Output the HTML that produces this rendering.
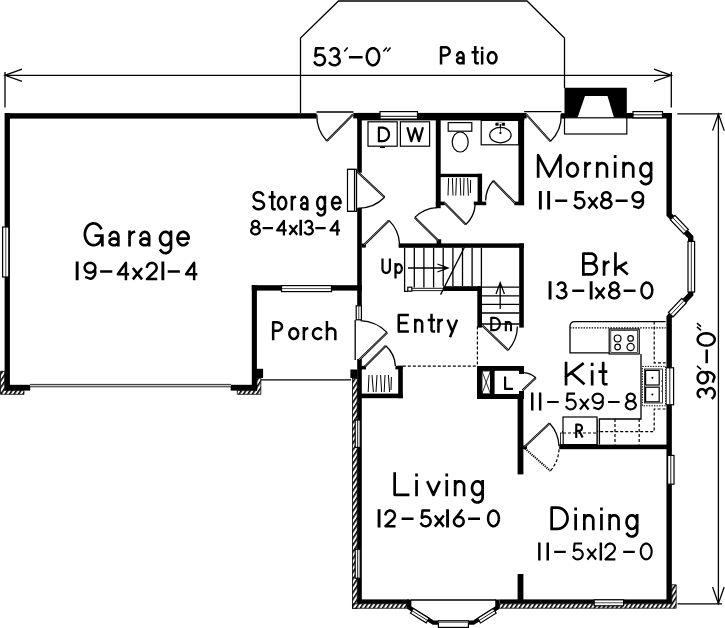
<!DOCTYPE html>
<html><head><meta charset="utf-8">
<style>
html,body{margin:0;padding:0;background:#fff;}
body{width:725px;height:628px;overflow:hidden;}
svg{display:block;}
text{font-family:"Liberation Sans",sans-serif;fill:#000;}
.w{fill:#000;}
.t{fill:none;stroke:#000;stroke-width:1.3;}
.tw{fill:#fff;stroke:#000;stroke-width:1.2;}
.d{fill:none;stroke:#000;stroke-width:1.2;stroke-dasharray:3 2;}
.leaf{stroke:#000;stroke-width:2.1;fill:none;}
.leafi{stroke:#fff;stroke-width:0.5;fill:none;}
</style></head><body>
<svg width="725" height="628" viewBox="0 0 725 628">
<defs>
<pattern id="h" width="3.7" height="3.7" patternUnits="userSpaceOnUse" patternTransform="rotate(33)">
<rect width="3.7" height="3.7" fill="#fff"/><rect x="0" y="0" width="1.6" height="3.7" fill="#000"/>
</pattern>
</defs>
<rect width="725" height="628" fill="#fff"/>

<!-- PATIO + DIMENSIONS -->
<g id="dims" class="t">
<path d="M300.5,113 V38 L338.5,1 H527 L564.5,38 V88"/>
<path d="M5,75.3 H671.3"/>
<path d="M22,69.2 L5,75.3 L22,81.4"/>
<path d="M654,69.2 L671.3,75.3 L654,81.4"/>
<path d="M5,72 V107.6"/>
<path d="M671.3,72 V107.6"/>
<path d="M677.3,113.8 H722"/>
<path d="M677.5,603.8 H722"/>
<path d="M718.4,113.8 V603.8"/>
<path d="M712.6,130.6 L718.4,114 L724.2,130.6"/>
<path d="M712.6,587 L718.4,603.6 L724.2,587"/>
</g>

<!-- WALLS -->
<g id="walls" class="w">
<!-- garage -->
<rect x="5" y="113.2" width="311.5" height="5.4"/>
<rect x="4.6" y="113" width="5.3" height="277.6"/>
<rect x="5" y="384.8" width="25.2" height="5.8"/>
<rect x="251.8" y="285" width="5.1" height="105.6"/>
<rect x="230.7" y="384.8" width="26.3" height="5.8"/>
<rect x="251.8" y="285.2" width="110" height="5.4"/>
<rect x="254.8" y="368.8" width="8.3" height="9.2"/>
<rect x="350.4" y="369.5" width="7" height="8.5"/>
<!-- top wall of house -->
<rect x="353.3" y="113" width="4" height="5.4"/><rect x="357.2" y="112.9" width="167.2" height="7.5"/><rect x="524" y="113" width="2.6" height="5.4"/>
<rect x="561" y="113.2" width="6" height="5.4"/>
<rect x="626" y="113" width="45.9" height="5.5"/>
<!-- house left wall -->
<rect x="357.2" y="113.2" width="4.6" height="59.5"/>
<rect x="357.2" y="207.8" width="4.6" height="98"/>
<rect x="357.2" y="359" width="4.6" height="249"/>
<!-- fireplace -->
<path d="M564.5,87.8 H626.8 V117.8 H614 L607.5,96 H585 L577.5,117.8 H564.5 Z"/>
<!-- laundry/bath divider -->
<rect x="435.8" y="113.2" width="4.9" height="95"/>
<rect x="435.8" y="201.6" width="9" height="3.6"/>
<!-- hall closet -->
<rect x="436" y="173.8" width="46" height="3.3"/>
<rect x="477.6" y="173.8" width="4.5" height="31.2"/>
<rect x="473.8" y="201.6" width="12.4" height="3.6"/>
<!-- bath right wall -->
<rect x="518.5" y="113.2" width="5.6" height="92"/>
<rect x="514.3" y="201.6" width="9.8" height="3.6"/>
<!-- stair walls -->
<rect x="398.6" y="243.4" width="125.4" height="4.4"/>
<rect x="436.6" y="239.3" width="4.6" height="5"/>
<rect x="361.6" y="243.6" width="4.2" height="4"/>
<rect x="519.2" y="243.4" width="4.6" height="84.2"/>
<rect x="443.2" y="286.2" width="38.8" height="4.8"/>
<rect x="477.3" y="286.2" width="4.7" height="41.4"/>
<!-- entry closet -->
<rect x="361" y="365.8" width="5" height="3.6"/>
<rect x="395.4" y="365.8" width="7.2" height="3.6"/>
<rect x="398.2" y="365.8" width="4.6" height="32.4"/>
<rect x="361" y="393.6" width="41.8" height="4.6"/>
<!-- L closet -->
<rect x="477" y="366" width="47" height="4.8"/>
<rect x="477" y="366" width="4.8" height="33"/>
<rect x="477" y="394" width="47" height="5"/>
<rect x="490.6" y="366" width="4" height="33"/>
<rect x="519" y="366" width="5" height="8"/>
<rect x="519" y="391" width="5" height="8"/>
<!-- living/dining divider -->
<rect x="517.6" y="394" width="5.8" height="80.4"/>
<rect x="517.6" y="574" width="5.8" height="28"/>
<rect x="523" y="445.6" width="4" height="3.4"/>
<!-- kitchen bottom wall -->
<rect x="559.2" y="444.6" width="110" height="4.6"/>
<!-- bottom wall -->
<rect x="357.2" y="599.4" width="51.8" height="4.4"/>
<rect x="499.5" y="599.4" width="171.7" height="4.4"/>
<!-- SECTION:WALLS -->
</g>

<!-- DETAILS -->
<g id="details">
<!-- right wall with bay -->
<path d="M669.15,113 V214.6 L690.7,237.2 V294.3 L669.15,317 V603.8" fill="none" stroke="#000" stroke-width="5.4" stroke-linejoin="miter"/>
<!-- bay windows (right) -->
<g transform="translate(669.15,214.6) rotate(46.4)"><rect x="4.5" y="-3.7" width="19.5" height="6.4" class="tw"/><path d="M4.5,-0.5 H24" class="t" style="stroke-width:0.8"/></g>
<rect x="688" y="241.4" width="6.6" height="50.6" class="tw"/><path d="M691.3,241.4 V292" class="t" style="stroke-width:0.8"/>
<g transform="translate(690.7,294.3) rotate(133.5)"><rect x="9" y="-2.7" width="19.5" height="6.4" class="tw"/><path d="M9,0.5 H28.5" class="t" style="stroke-width:0.8"/></g>
<!-- kitchen + dining windows on right wall -->
<rect x="666" y="367.8" width="7.6" height="37" class="tw"/><path d="M669.8,367.8 V404.8" class="t" style="stroke-width:0.9"/>
<rect x="667.6" y="455.4" width="6.4" height="28.8" class="tw"/><path d="M670.8,455.4 V484.2" class="t" style="stroke-width:0.9"/>
<!-- top windows -->
<rect x="380" y="111.6" width="37.5" height="7.4" class="tw"/><path d="M380,116.3 H417.5" class="t" style="stroke-width:1"/>
<rect x="633" y="111.6" width="29.5" height="6.2" class="tw"/><path d="M633,114.8 H662.5" class="t" style="stroke-width:0.9"/>
<!-- garage left window -->
<rect x="2.6" y="227" width="6.2" height="50" class="tw"/><path d="M5.8,227 V277" class="t" style="stroke-width:0.7"/>
<!-- porch window -->
<rect x="281.5" y="285.6" width="50" height="6" class="tw"/><path d="M281.5,288.6 H331.5" class="t" style="stroke-width:0.7"/>
<!-- sidelight -->
<rect x="356.2" y="305.8" width="5.2" height="14" class="tw"/><path d="M358.8,305.8 V319.8" class="t" style="stroke-width:0.7"/>
<!-- garage door -->
<rect x="30" y="384.4" width="201" height="2.4" fill="#c8c8c8"/><path d="M30,384.4 H231 M30,386.8 H231" class="t" style="stroke:#333;stroke-width:1"/>
<!-- porch line -->
<path d="M260.8,379.9 H351" class="t"/>
<!-- hatch: garage corners -->
<path d="M0.5,371.3 H4.6 V390.6 H24 V394.3 H0.5 Z" fill="url(#h)" stroke="#000" stroke-width="0.8"/>
<path d="M256.9,378 H260.8 V394.3 H237.3 V390.6 H256.9 Z" fill="url(#h)" stroke="#000" stroke-width="0.8"/>
<!-- hatch: living left wall -->
<rect x="352.4" y="378.5" width="4.8" height="229.8" fill="url(#h)" stroke="#000" stroke-width="0.8"/>
<rect x="355.2" y="420" width="5" height="27.4" class="tw"/><path d="M357.7,420 V447.4" class="t" style="stroke-width:0.9"/>
<rect x="355.2" y="549.2" width="5" height="29" class="tw"/><path d="M357.7,549.2 V578.2" class="t" style="stroke-width:0.9"/>
<!-- hatch: bottom -->
<rect x="352.4" y="603.8" width="54.6" height="4.4" fill="url(#h)" stroke="#000" stroke-width="0.8"/>
<path d="M499.6,603.8 H671.8 V584.8 H676.2 V608.2 H499.6 Z" fill="url(#h)" stroke="#000" stroke-width="0.8"/>
<rect x="594.2" y="599.8" width="29.4" height="6" class="tw"/><path d="M594.2,602.8 H623.6" class="t" style="stroke-width:0.7"/>
<!-- living bay -->
<path d="M409.2,599.4 V607.6 L433.4,622.7 H473.4 L497.4,607.6 V599.4" fill="none" stroke="#000" stroke-width="4.3" stroke-linejoin="miter"/>
<path d="M411,600 H496" class="t"/>
<g transform="translate(409.2,607.6) rotate(31.9)"><rect x="4" y="-1.4" width="18.5" height="5.4" class="tw"/><path d="M4,1.2 H22.5" class="t" style="stroke-width:0.8"/></g>
<g transform="translate(497.4,607.6) rotate(147.8)"><rect x="4" y="-4" width="18.5" height="5.4" class="tw"/><path d="M4,-1.2 H22.5" class="t" style="stroke-width:0.8"/></g>
<rect x="438.4" y="620.8" width="30" height="6.6" class="tw"/><path d="M438.4,622.2 H468.4" class="t" style="stroke:#777;stroke-width:1.6"/>
<!-- hearth -->
<rect x="564.5" y="117.8" width="62.3" height="16.2" class="tw"/>
<!-- DOORS: leaf (double line) + arc -->
<!-- D1 garage back door -->
<path d="M316.5,112 H353.5" class="t"/>
<path d="M353,114.5 L326.8,141" class="leaf"/><path d="M353,114.5 L326.8,141" class="leafi"/>
<path d="M326.8,141 A37.5,37.5 0 0 1 316.8,114.5" class="t"/>
<!-- D2 storage door -->
<rect x="347.5" y="169.4" width="7" height="42" class="tw"/><path d="M356.5,169.4 V211.4" class="t"/><path d="M347.5,169.4 H357 M347.5,211.4 H357" class="t"/>
<path d="M357.6,172 L384.6,197.3" class="leaf"/><path d="M357.6,172 L384.6,197.3" class="leafi"/>
<path d="M384.6,197.3 A37,37 0 0 1 358,208.3" class="t"/>
<!-- D3 -->
<path d="M364,245 L389,220.4" class="leaf"/><path d="M364,245 L389,220.4" class="leafi"/>
<path d="M389,220.4 A36,36 0 0 1 399.6,244" class="t"/>
<!-- D4 -->
<path d="M438.6,241 L414.8,217.4" class="leaf"/><path d="M438.6,241 L414.8,217.4" class="leafi"/>
<path d="M414.8,217.4 A33.5,33.5 0 0 1 437,207.6" class="t"/>
<!-- D5 hall closet -->
<path d="M444.5,203 L465.8,224.5" class="leaf"/><path d="M444.5,203 L465.8,224.5" class="leafi"/>
<path d="M465.8,224.5 A30.2,30.2 0 0 0 475.2,204.6" class="t"/>
<!-- D6 bath -->
<path d="M515,203 L493.2,180.8" class="leaf"/><path d="M515,203 L493.2,180.8" class="leafi"/>
<path d="M493.2,180.8 A31,31 0 0 0 485.6,200.6" class="t"/>
<!-- D7 morning -->
<path d="M524.2,111.6 H561.4" class="t"/>
<path d="M526.4,114.6 L550.5,141.4" class="leaf"/><path d="M526.4,114.6 L550.5,141.4" class="leafi"/>
<path d="M550.5,141.4 A36.4,36.4 0 0 0 561.2,114" class="t"/>
<!-- D8 front door -->
<path d="M355.2,320 V360" class="t"/>
<path d="M359,360 L387.2,332.6" class="leaf"/><path d="M359,360 L387.2,332.6" class="leafi"/>
<path d="M387.2,332.6 A39.5,39.5 0 0 0 360.5,320.6" class="t"/>
<!-- D9 entry closet -->
<path d="M365,366.4 L385.8,345.7" class="leaf"/><path d="M365,366.4 L385.8,345.7" class="leafi"/>
<path d="M385.8,345.7 A29.4,29.4 0 0 1 395.4,366" class="t"/>
<!-- D10 Dn door -->
<path d="M481.4,324 H519.4" class="t"/>
<path d="M482.4,325.4 L508.2,350.2" class="leaf"/><path d="M482.4,325.4 L508.2,350.2" class="leafi"/>
<path d="M508.2,350.2 A36.2,36.2 0 0 0 517.4,326.6" class="t"/>
<!-- D11 L closet door -->
<path d="M522.4,390.6 L535.8,377.8" class="leaf"/><path d="M522.4,390.6 L535.8,377.8" class="leafi"/>
<path d="M535.8,377.8 A18.6,18.6 0 0 0 523.6,372.6" class="t"/>
<!-- D12 kitchen double swing -->
<path d="M524.4,447 L549.6,423.2" class="leaf"/><path d="M524.4,447 L549.6,423.2" class="leafi"/>
<path d="M549.6,423.2 A35.5,35.5 0 0 1 559,446" class="t"/>
<path d="M525,448.6 L550.4,470.9" fill="none" stroke="#000" stroke-width="2" stroke-dasharray="1.2 1"/>
<path d="M559,449.4 A35.5,35.5 0 0 1 550.4,470.9" class="d"/>

<!-- dashed lines entry -->
<path d="M402.8,366.2 H477" class="d"/>
<path d="M477.4,326.6 V366" class="d"/>

<!-- washer / dryer -->
<rect x="368" y="121.8" width="29.2" height="24.4" class="tw"/>
<rect x="400.4" y="121.8" width="29.2" height="24.4" class="tw"/>
<path d="M380,147.4 H385" class="t"/>
<!-- toilet -->
<rect x="448.2" y="122.6" width="23.6" height="8.6" class="tw"/>
<ellipse cx="460.2" cy="142" rx="8" ry="10" class="tw"/>
<!-- sink -->
<rect x="481.2" y="120.4" width="37.5" height="24.4" class="tw"/>
<ellipse cx="500.4" cy="135.1" rx="10.7" ry="7.7" class="tw"/>
<rect x="495.3" y="123" width="3.4" height="2.7" rx="0.8" fill="#000"/><rect x="501.7" y="123" width="3.4" height="2.7" rx="0.8" fill="#000"/>
<path d="M495.6,122.2 H504.8" class="t" style="stroke:#777;stroke-width:0.8"/>
<path d="M499.6,124 L500.2,132 L500.6,132 L501.2,124 Z" fill="#000"/>
<circle cx="500.4" cy="132.9" r="1.1" fill="#000"/>
<!-- hall closet hangers -->
<path d="M448.6,178 L448,195.6 M452.4,178 L453,195.6 M456.4,178 L455.8,195.6 M460.2,178 L460.8,195.6 M464,178 L463.6,195.6 M467.6,178 L468.4,195.6 M470.6,180 L470.4,193" class="t" style="stroke-width:1"/>
<!-- entry closet hangers -->
<path d="M369,375 L368.2,392 M372,375 L373.4,392 M377,375 L376,392 M380.6,375 L381.6,392 M385,375 L384.2,392 M388.4,375 L389.6,392 M391.4,377 L391,390" class="t" style="stroke-width:1"/>

<!-- stairs up -->
<path d="M404.6,248 V291.4 H408 M414.3,248 V287.4 M423.9,248 V287.4 M433.6,248 V287.4 M443.2,248 V286 M452.9,248 V286 M462.5,248 V286 M472.1,248 V286 M481.4,248 V286" class="t"/>
<rect x="407.8" y="287.2" width="4" height="4" class="tw"/>
<path d="M412,288.3 H443.2 M412,290.6 H443.2" class="t" style="stroke-width:0.9"/>
<path d="M464.6,247 L440.6,294.6" class="t"/>
<path d="M408,268 H448 M437.4,264 L448,268 L437.4,272" class="t"/>
<!-- stairs down -->
<path d="M482,287.2 H519.4 M482,295.8 H519.4 M482,304.4 H519.4 M482,313 H519.4" class="t"/>
<path d="M500.2,282.6 V309 M496,294 L500.2,282.6 L504.4,294" class="t"/>
<!-- L closet X -->
<rect x="481.8" y="370.8" width="8.8" height="23.2" class="tw"/>
<path d="M481.8,370.8 L490.6,394 M490.6,370.8 L481.8,394" class="t" style="stroke-width:0.8"/>

<!-- KITCHEN -->
<path d="M665.6,321.6 H575 Q570,321.6 570,326.6 V352.8 H609.2" class="t"/>
<path d="M570,327.8 H665.6" class="t" stroke-dasharray="1.5 1.2"/>
<rect x="609.2" y="329" width="30" height="25" class="tw"/><rect x="610.8" y="330.6" width="26.8" height="21.8" class="tw" style="stroke-width:0.7"/>
<circle cx="617.6" cy="338.4" r="3.4" class="tw"/><circle cx="630.6" cy="338.4" r="2.8" class="tw"/>
<circle cx="617.6" cy="347" r="2.8" class="tw"/><circle cx="630.6" cy="347" r="3.6" class="tw"/>
<path d="M641,354 V419 H599.4 V444.6" class="t"/>
<path d="M597.4,419 V444.6" class="t" style="stroke-width:0.7"/>
<path d="M654.2,321.6 V362.8 H665.6" class="d"/>
<path d="M665.6,409 H654.2 V431.6 H562" class="d"/>
<path d="M615,419 V444.6 M639.2,419 V444.6" class="d"/>
<!-- sink -->
<rect x="642.4" y="366.4" width="23.2" height="39.4" fill="#fff" stroke="#000" stroke-width="1" stroke-dasharray="1.4 1.2"/>
<rect x="644.6" y="369" width="18" height="34" class="tw" style="stroke-width:0.8"/>
<rect x="645.6" y="370.4" width="13.6" height="14.6" class="tw"/>
<rect x="645.6" y="387.2" width="13.6" height="14.6" class="tw"/>
<circle cx="652.4" cy="377.8" r="1" fill="#000"/><circle cx="652.4" cy="394.6" r="1" fill="#000"/>
<circle cx="661.6" cy="381" r="0.6" fill="#000"/><circle cx="661.6" cy="386" r="0.6" fill="#000"/><circle cx="661.6" cy="391" r="0.6" fill="#000"/>
<!-- fridge -->
<rect x="563" y="417" width="34" height="27.6" class="tw"/>
<rect x="560.4" y="433" width="2.6" height="11.6" class="tw" style="stroke-width:0.8"/>
<path d="M563,433 H597" class="d"/>
<!-- SECTION:DETAILS -->
</g>

<!-- TEXT -->
<g id="labels">
<path d="M100.87,228.18 L99.75,226.49 L98.38,225.11 L96.81,224.11 L95.12,223.51 L93.37,223.35 L91.62,223.64 L89.96,224.35 L88.44,225.46 L87.13,226.93 L86.09,228.69 L85.34,230.68 L84.93,232.82 L84.87,235.02 L85.16,237.19 L85.79,239.24 L86.74,241.09 L87.96,242.67 L89.41,243.91 L91.03,244.76 L92.76,245.20 L94.51,245.19 L96.24,244.75 L97.85,243.88 L99.30,242.63 L100.51,241.04 L102.37,235.61 L95.80,235.61 M102.37,235.61 L102.37,245.25 M109.86,235.59 L110.11,234.72 L110.52,233.93 L111.05,233.23 L111.70,232.65 L112.44,232.23 L113.24,231.97 L114.07,231.89 L114.90,231.99 L115.69,232.26 L116.43,232.69 L117.07,233.27 L117.60,233.98 L117.99,234.78 L118.23,235.66 L118.31,236.57 L118.31,245.25 M116.44,239.17 L115.66,238.84 L114.81,238.64 L113.92,238.57 L113.03,238.64 L112.17,238.85 L111.39,239.19 L110.72,239.64 L110.18,240.18 L109.80,240.80 L109.59,241.46 L109.56,242.15 L109.71,242.82 L110.04,243.45 L110.54,244.02 L111.17,244.50 L111.92,244.88 L112.75,245.13 L113.64,245.24 L114.53,245.22 L115.40,245.06 L116.21,244.76 L116.92,244.35 L117.51,243.84 L117.95,243.24 L118.22,242.59 L118.31,241.91 M129.55,231.89 L129.55,245.25 M129.55,237.80 L129.65,236.63 L129.96,235.51 L130.46,234.47 L131.14,233.57 L131.95,232.84 L132.89,232.30 L133.89,231.98 M140.66,235.59 L140.91,234.72 L141.32,233.93 L141.85,233.23 L142.50,232.65 L143.24,232.23 L144.04,231.97 L144.87,231.89 L145.70,231.99 L146.49,232.26 L147.23,232.69 L147.87,233.27 L148.40,233.98 L148.79,234.78 L149.03,235.66 L149.11,236.57 L149.11,245.25 M147.24,239.17 L146.46,238.84 L145.61,238.64 L144.72,238.57 L143.83,238.64 L142.97,238.85 L142.19,239.19 L141.52,239.64 L140.98,240.18 L140.60,240.80 L140.39,241.46 L140.36,242.15 L140.51,242.82 L140.84,243.45 L141.34,244.02 L141.97,244.50 L142.72,244.88 L143.55,245.13 L144.44,245.24 L145.33,245.22 L146.20,245.06 L147.01,244.76 L147.72,244.35 L148.31,243.84 L148.75,243.24 L149.02,242.59 L149.11,241.91 M171.00,238.57 L170.89,237.23 L170.56,235.94 L170.02,234.75 L169.30,233.73 L168.42,232.90 L167.43,232.31 L166.35,231.97 L165.25,231.90 L164.15,232.10 L163.11,232.57 L162.17,233.29 L161.37,234.22 L160.74,235.33 L160.30,236.57 L160.08,237.89 L160.08,239.25 L160.30,240.57 L160.74,241.81 L161.37,242.92 L162.17,243.85 L163.11,244.57 L164.15,245.04 L165.25,245.24 L166.35,245.17 L167.43,244.83 L168.42,244.24 L169.30,243.41 L170.02,242.39 L170.56,241.20 L170.89,239.92 L171.00,238.57 M171.00,231.89 L171.00,247.88 L170.89,248.93 L170.56,249.94 L170.03,250.86 L169.32,251.67 L168.45,252.32 L167.47,252.79 L166.40,253.07 L165.30,253.13 L164.21,252.98 L163.18,252.63 L162.24,252.08 L161.43,251.36 L160.78,250.51 M177.55,238.57 L188.72,238.57 L188.71,238.10 L188.51,236.77 L188.10,235.51 L187.48,234.38 L186.69,233.42 L185.74,232.66 L184.69,232.16 L183.58,231.91 L182.45,231.94 L181.35,232.24 L180.32,232.80 L179.40,233.60 L178.64,234.60 L178.07,235.77 L177.70,237.05 L177.55,238.39 L177.64,239.74 L177.95,241.04 L178.47,242.24 L179.18,243.29 L180.06,244.15 L181.06,244.77 L182.15,245.15 L183.28,245.25 L184.40,245.08 L185.47,244.64 L186.45,243.95 L187.28,243.04" fill="none" stroke="#000" stroke-width="2.70" stroke-linejoin="round" stroke-linecap="square"/>
<path d="M76.95,279.05 L76.95,262.85 M77.36,279.05 L77.36,262.85 M95.02,269.37 L95.28,268.42 L95.33,267.44 L95.16,266.47 L94.78,265.55 L94.20,264.71 L93.46,264.00 L92.56,263.45 L91.57,263.06 L90.51,262.87 L89.43,262.88 L88.37,263.08 L87.38,263.47 L86.49,264.04 L85.75,264.76 L85.18,265.59 L84.81,266.52 L84.66,267.49 L84.72,268.47 L84.99,269.42 L85.48,270.30 L86.14,271.08 L86.97,271.71 L87.92,272.19 L88.95,272.48 L90.03,272.57 L91.10,272.46 L92.13,272.17 L93.07,271.68 L93.89,271.04 L94.55,270.26 L95.02,269.37 L95.29,273.11 L95.01,274.41 L94.50,275.63 L93.78,276.72 L92.88,277.64 L91.82,278.35 L90.66,278.82 L86.43,277.43 M101.35,271.44 L111.07,271.44 M125.95,279.05 L125.95,262.85 L117.85,274.19 L127.89,274.19 M133.64,278.40 L141.25,269.01 M133.64,269.01 L141.25,278.40 M147.06,266.70 L147.36,265.75 L147.86,264.88 L148.53,264.13 L149.33,263.53 L150.24,263.11 L151.22,262.89 L152.22,262.87 L153.20,263.05 L154.13,263.44 L154.96,264.01 L155.65,264.73 L156.18,265.58 L156.52,266.52 L156.67,267.51 L156.60,268.51 L156.34,269.48 L155.88,270.37 L155.25,271.15 L146.95,279.05 L156.02,279.05 M162.65,279.05 L162.65,262.85 M163.06,279.05 L163.06,262.85 M168.95,271.44 L178.67,271.44 M194.15,279.05 L194.15,262.85 L186.05,274.19 L196.09,274.19" fill="none" stroke="#000" stroke-width="2.50" stroke-linejoin="round" stroke-linecap="square"/>
<path d="M262.91,194.67 L262.40,193.91 L261.73,193.25 L260.92,192.73 L260.02,192.37 L259.05,192.18 L258.06,192.17 L257.08,192.33 L256.16,192.67 L255.34,193.17 L254.65,193.81 L254.12,194.55 L253.77,195.38 L253.61,196.26 L253.65,197.14 L253.89,198.00 L254.33,198.80 L254.93,199.50 L255.68,200.08 L256.55,200.51 L257.50,200.78 L258.48,200.87 L258.66,200.87 L259.75,200.96 L260.80,201.21 L261.76,201.63 L262.59,202.19 L263.26,202.86 L263.74,203.63 L264.01,204.45 L264.05,205.30 L263.88,206.14 L263.49,206.94 L262.90,207.66 L262.13,208.27 L261.22,208.75 L260.21,209.07 L259.13,209.23 L258.03,209.22 L256.96,209.04 L255.95,208.69 L255.06,208.19 L254.32,207.56 L253.76,206.83 M272.27,192.15 L272.27,207.54 L272.30,207.87 L272.38,208.19 L272.53,208.49 L272.72,208.75 L272.95,208.96 L273.22,209.12 L273.50,209.22 L273.81,209.25 L274.47,209.25 M269.85,196.94 L274.31,196.94 M286.17,203.09 L286.09,201.85 L285.84,200.67 L285.44,199.58 L284.91,198.63 L284.26,197.87 L283.52,197.32 L282.73,197.01 L281.91,196.95 L281.09,197.13 L280.32,197.57 L279.63,198.23 L279.03,199.08 L278.56,200.11 L278.24,201.25 L278.07,202.47 L278.07,203.72 L278.24,204.94 L278.56,206.08 L279.03,207.10 L279.63,207.96 L280.32,208.62 L281.09,209.05 L281.91,209.24 L282.73,209.18 L283.52,208.87 L284.26,208.32 L284.91,207.56 L285.44,206.61 L285.84,205.52 L286.09,204.33 L286.17,203.09 M291.85,196.94 L291.85,209.25 M291.85,201.56 L291.92,200.64 L292.14,199.76 L292.49,198.95 L292.96,198.25 L293.54,197.68 L294.19,197.26 L294.90,197.01 M301.37,200.35 L301.55,199.55 L301.83,198.81 L302.21,198.17 L302.66,197.64 L303.18,197.25 L303.74,197.01 L304.33,196.94 L304.91,197.03 L305.47,197.27 L305.98,197.67 L306.43,198.21 L306.80,198.86 L307.08,199.61 L307.25,200.41 L307.31,201.25 L307.31,209.25 M305.99,203.65 L305.44,203.34 L304.84,203.16 L304.22,203.09 L303.59,203.16 L302.99,203.35 L302.45,203.66 L301.97,204.08 L301.59,204.58 L301.33,205.15 L301.18,205.76 L301.16,206.39 L301.27,207.01 L301.50,207.59 L301.84,208.12 L302.29,208.56 L302.82,208.91 L303.40,209.14 L304.02,209.24 L304.65,209.22 L305.26,209.07 L305.83,208.80 L306.33,208.42 L306.74,207.95 L307.05,207.40 L307.24,206.80 L307.31,206.17 M324.94,203.09 L324.87,201.85 L324.63,200.67 L324.26,199.58 L323.75,198.63 L323.13,197.87 L322.43,197.32 L321.68,197.01 L320.90,196.95 L320.13,197.13 L319.40,197.57 L318.74,198.23 L318.18,199.08 L317.73,200.11 L317.43,201.25 L317.27,202.47 L317.27,203.72 L317.43,204.94 L317.73,206.08 L318.18,207.10 L318.74,207.96 L319.40,208.62 L320.13,209.05 L320.90,209.24 L321.68,209.18 L322.43,208.87 L323.13,208.32 L323.75,207.56 L324.26,206.61 L324.63,205.52 L324.87,204.33 L324.94,203.09 M324.94,196.94 L324.94,211.30 L324.87,212.12 L324.64,212.91 L324.26,213.63 L323.76,214.26 L323.15,214.77 L322.46,215.14 L321.71,215.35 L320.94,215.40 L320.18,215.29 L319.45,215.01 L318.79,214.58 L318.22,214.02 L317.77,213.35 M332.05,203.09 L340.60,203.09 L340.59,202.66 L340.44,201.44 L340.12,200.27 L339.65,199.23 L339.04,198.34 L338.32,197.65 L337.52,197.18 L336.67,196.96 L335.80,196.98 L334.96,197.26 L334.17,197.78 L333.47,198.51 L332.89,199.44 L332.44,200.51 L332.16,201.69 L332.05,202.93 L332.12,204.17 L332.35,205.37 L332.75,206.48 L333.30,207.44 L333.97,208.23 L334.74,208.81 L335.57,209.15 L336.43,209.25 L337.29,209.09 L338.11,208.68 L338.86,208.05 L339.50,207.21" fill="none" stroke="#000" stroke-width="2.50" stroke-linejoin="round" stroke-linecap="square"/>
<path d="M258.98,224.01 L258.91,223.37 L258.70,222.75 L258.35,222.19 L257.89,221.70 L257.32,221.31 L256.68,221.02 L255.99,220.86 L255.28,220.83 L254.58,220.93 L253.91,221.15 L253.30,221.49 L252.79,221.94 L252.38,222.46 L252.10,223.06 L251.96,223.69 L251.96,224.33 L252.10,224.96 L252.38,225.55 L252.79,226.08 L253.30,226.53 L253.91,226.87 L254.58,227.09 L255.28,227.19 L255.99,227.16 L256.68,227.00 L257.32,226.71 L257.89,226.32 L258.35,225.83 L258.70,225.26 L258.91,224.65 L258.98,224.01 M259.80,230.78 L259.71,230.06 L259.45,229.37 L259.02,228.73 L258.45,228.18 L257.75,227.74 L256.97,227.42 L256.12,227.23 L255.24,227.20 L254.37,227.31 L253.55,227.56 L252.81,227.94 L252.17,228.45 L251.67,229.04 L251.32,229.71 L251.15,230.42 L251.15,231.15 L251.32,231.86 L251.67,232.53 L252.17,233.12 L252.81,233.62 L253.55,234.01 L254.37,234.26 L255.24,234.37 L256.12,234.33 L256.97,234.15 L257.75,233.83 L258.45,233.39 L259.02,232.84 L259.45,232.20 L259.71,231.51 L259.80,230.78 M263.73,228.01 L271.86,228.01 M283.90,234.38 L283.90,220.82 L277.12,230.31 L285.53,230.31 M290.13,233.83 L296.50,225.97 M290.13,225.97 L296.50,233.83 M300.52,234.38 L300.52,220.82 M300.86,234.38 L300.86,220.82 M305.72,222.48 L306.11,221.95 L306.61,221.50 L307.18,221.15 L307.82,220.93 L308.49,220.83 L309.16,220.86 L309.81,221.03 L310.42,221.31 L310.96,221.71 L311.40,222.21 L311.74,222.78 L311.96,223.41 L312.04,224.06 L311.99,224.72 L311.81,225.36 L311.50,225.95 L311.08,226.46 L310.56,226.89 L309.97,227.20 L309.33,227.40 L308.65,227.46 L309.49,227.53 L310.29,227.74 L311.02,228.06 L311.66,228.51 L312.18,229.05 L312.56,229.66 L312.79,230.32 L312.85,231.01 L312.75,231.69 L312.48,232.34 L312.07,232.94 L311.51,233.45 L310.84,233.87 L310.09,234.17 L309.28,234.34 L308.45,234.37 L307.62,234.27 L306.83,234.03 L306.12,233.67 L305.51,233.21 L305.02,232.65 M316.43,228.01 L324.56,228.01 M337.30,234.38 L337.30,220.82 L330.52,230.31 L338.93,230.31" fill="none" stroke="#000" stroke-width="2.25" stroke-linejoin="round" stroke-linecap="square"/>
<path d="M538.15,176.45 L538.15,155.15 L549.29,176.45 L560.44,155.15 L560.44,176.45 M577.80,169.79 L577.69,168.45 L577.37,167.17 L576.85,165.99 L576.14,164.97 L575.29,164.14 L574.32,163.55 L573.28,163.21 L572.21,163.15 L571.14,163.35 L570.13,163.82 L569.22,164.53 L568.43,165.46 L567.82,166.56 L567.39,167.80 L567.18,169.12 L567.18,170.47 L567.39,171.79 L567.82,173.02 L568.43,174.13 L569.22,175.06 L570.13,175.77 L571.14,176.24 L572.21,176.44 L573.28,176.37 L574.32,176.04 L575.29,175.44 L576.14,174.62 L576.85,173.60 L577.37,172.42 L577.69,171.13 L577.80,169.79 M585.45,163.14 L585.45,176.45 M585.45,168.89 L585.55,167.75 L585.85,166.65 L586.34,165.65 L586.99,164.77 L587.79,164.06 L588.69,163.54 L589.67,163.22 M597.25,163.14 L597.25,176.45 M597.25,167.93 L597.34,167.00 L597.62,166.10 L598.06,165.27 L598.66,164.54 L599.40,163.95 L600.23,163.50 L601.14,163.23 L602.08,163.14 L603.02,163.23 L603.93,163.50 L604.76,163.95 L605.50,164.54 L606.10,165.27 L606.54,166.10 L606.82,167.00 L606.91,167.93 L606.91,176.45 M615.15,163.14 L615.15,176.45 M615.15,156.75 L615.15,156.32 M623.55,163.14 L623.55,176.45 M623.55,167.93 L623.64,167.00 L623.92,166.10 L624.36,165.27 L624.96,164.54 L625.70,163.95 L626.53,163.50 L627.44,163.23 L628.38,163.14 L629.32,163.23 L630.23,163.50 L631.06,163.95 L631.80,164.54 L632.40,165.27 L632.84,166.10 L633.12,167.00 L633.21,167.93 L633.21,176.45 M651.10,169.79 L650.99,168.45 L650.67,167.17 L650.15,165.99 L649.44,164.97 L648.59,164.14 L647.62,163.55 L646.58,163.21 L645.51,163.15 L644.44,163.35 L643.43,163.82 L642.52,164.53 L641.73,165.46 L641.12,166.56 L640.69,167.80 L640.48,169.12 L640.48,170.47 L640.69,171.79 L641.12,173.02 L641.73,174.13 L642.52,175.06 L643.43,175.77 L644.44,176.24 L645.51,176.44 L646.58,176.37 L647.62,176.04 L648.59,175.44 L649.44,174.62 L650.15,173.60 L650.67,172.42 L650.99,171.13 L651.10,169.79 M651.10,163.14 L651.10,179.01 L650.99,180.03 L650.67,181.01 L650.16,181.91 L649.46,182.69 L648.62,183.33 L647.66,183.79 L646.63,184.05 L645.56,184.11 L644.50,183.97 L643.49,183.62 L642.58,183.09 L641.79,182.40 L641.16,181.56" fill="none" stroke="#000" stroke-width="2.70" stroke-linejoin="round" stroke-linecap="square"/>
<path d="M540.15,208.15 L540.15,192.25 M540.55,208.15 L540.55,192.25 M548.45,208.15 L548.45,192.25 M548.85,208.15 L548.85,192.25 M556.45,200.68 L565.99,200.68 M582.60,192.25 L576.08,192.25 L575.44,199.25 L575.66,199.74 L576.48,199.09 L577.42,198.63 L578.43,198.36 L579.48,198.30 L580.52,198.45 L581.51,198.80 L582.40,199.34 L583.16,200.05 L583.75,200.90 L584.15,201.84 L584.33,202.84 L584.31,203.86 L584.06,204.86 L583.61,205.78 L582.97,206.59 L582.18,207.26 L581.26,207.75 L580.25,208.06 L579.21,208.15 L578.16,208.03 L577.16,207.71 L576.25,207.20 L575.47,206.51 L574.85,205.69 M589.23,207.51 L596.70,198.29 M589.23,198.29 L596.70,207.51 M610.37,195.99 L610.29,195.23 L610.04,194.51 L609.63,193.85 L609.09,193.28 L608.42,192.82 L607.67,192.48 L606.86,192.29 L606.03,192.25 L605.20,192.37 L604.42,192.63 L603.71,193.03 L603.10,193.55 L602.62,194.17 L602.29,194.87 L602.13,195.61 L602.13,196.36 L602.29,197.11 L602.62,197.80 L603.10,198.42 L603.71,198.94 L604.42,199.34 L605.20,199.60 L606.03,199.72 L606.86,199.68 L607.67,199.49 L608.42,199.16 L609.09,198.69 L609.63,198.12 L610.04,197.46 L610.29,196.74 L610.37,195.99 M611.33,203.94 L611.22,203.09 L610.91,202.27 L610.41,201.53 L609.74,200.88 L608.93,200.36 L608.01,199.99 L607.01,199.77 L605.98,199.73 L604.96,199.86 L604.00,200.15 L603.12,200.60 L602.38,201.19 L601.79,201.89 L601.38,202.68 L601.18,203.51 L601.18,204.36 L601.38,205.20 L601.79,205.98 L602.38,206.68 L603.12,207.27 L604.00,207.72 L604.96,208.02 L605.98,208.14 L607.01,208.10 L608.01,207.89 L608.93,207.51 L609.74,206.99 L610.41,206.34 L610.91,205.60 L611.22,204.78 L611.33,203.94 M616.85,200.68 L626.39,200.68 M642.73,198.65 L642.99,197.72 L643.04,196.75 L642.87,195.80 L642.49,194.90 L641.93,194.08 L641.19,193.38 L640.32,192.84 L639.34,192.46 L638.30,192.27 L637.24,192.28 L636.20,192.48 L635.22,192.86 L634.36,193.42 L633.63,194.12 L633.07,194.94 L632.71,195.85 L632.56,196.81 L632.62,197.77 L632.89,198.70 L633.36,199.57 L634.01,200.33 L634.82,200.95 L635.75,201.41 L636.77,201.70 L637.83,201.79 L638.88,201.69 L639.89,201.39 L640.82,200.92 L641.62,200.29 L642.27,199.52 L642.73,198.65 L642.99,202.32 L642.72,203.60 L642.22,204.80 L641.51,205.87 L640.62,206.76 L639.59,207.46 L638.45,207.92 L634.30,206.56" fill="none" stroke="#000" stroke-width="2.50" stroke-linejoin="round" stroke-linecap="square"/>
<path d="M583.35,274.45 L583.35,253.55 L590.57,253.55 L591.63,253.64 L592.65,253.92 L593.58,254.38 L594.40,254.99 L595.08,255.73 L595.58,256.58 L595.89,257.50 L595.99,258.46 L595.89,259.42 L595.58,260.34 L595.08,261.19 L594.40,261.93 L593.58,262.55 L592.65,263.00 L591.63,263.28 L590.57,263.37 L583.35,263.37 M583.35,263.37 L590.80,263.37 L591.99,263.48 L593.13,263.79 L594.18,264.31 L595.11,265.00 L595.87,265.83 L596.43,266.79 L596.78,267.83 L596.89,268.91 L596.78,269.99 L596.43,271.03 L595.87,271.99 L595.11,272.83 L594.18,273.52 L593.13,274.03 L591.99,274.34 L590.80,274.45 L583.35,274.45 M604.05,261.91 L604.05,274.45 M604.05,267.55 L604.15,266.43 L604.44,265.36 L604.92,264.37 L605.56,263.51 L606.34,262.81 L607.23,262.30 L608.19,262.00 M615.45,253.55 L615.45,274.45 M625.81,262.75 L615.45,269.43 M618.90,266.72 L626.79,273.61" fill="none" stroke="#000" stroke-width="2.70" stroke-linejoin="round" stroke-linecap="square"/>
<path d="M549.85,298.25 L549.85,282.55 M550.24,298.25 L550.24,282.55 M558.10,284.47 L558.56,283.85 L559.13,283.33 L559.80,282.93 L560.53,282.67 L561.31,282.55 L562.09,282.59 L562.85,282.78 L563.55,283.11 L564.17,283.58 L564.69,284.15 L565.08,284.81 L565.33,285.54 L565.43,286.30 L565.37,287.06 L565.16,287.80 L564.80,288.48 L564.31,289.08 L563.71,289.57 L563.03,289.94 L562.28,290.17 L561.50,290.24 L562.47,290.32 L563.39,290.56 L564.24,290.94 L564.99,291.45 L565.59,292.07 L566.03,292.78 L566.30,293.55 L566.37,294.35 L566.25,295.14 L565.94,295.89 L565.45,296.58 L564.81,297.18 L564.04,297.66 L563.17,298.01 L562.23,298.21 L561.26,298.25 L560.30,298.13 L559.39,297.85 L558.56,297.44 L557.85,296.90 L557.29,296.25 M573.55,290.87 L582.97,290.87 M590.95,298.25 L590.95,282.55 M591.34,298.25 L591.34,282.55 M596.32,297.62 L603.70,288.52 M596.32,288.52 L603.70,297.62 M618.26,286.24 L618.17,285.50 L617.93,284.78 L617.52,284.13 L616.99,283.57 L616.33,283.11 L615.59,282.78 L614.79,282.59 L613.97,282.55 L613.15,282.67 L612.38,282.93 L611.68,283.32 L611.08,283.84 L610.60,284.45 L610.28,285.13 L610.11,285.87 L610.11,286.61 L610.28,287.34 L610.60,288.03 L611.08,288.64 L611.68,289.16 L612.38,289.55 L613.15,289.81 L613.97,289.92 L614.79,289.89 L615.59,289.70 L616.33,289.37 L616.99,288.91 L617.52,288.35 L617.93,287.69 L618.17,286.98 L618.26,286.24 M619.20,294.09 L619.10,293.25 L618.79,292.45 L618.30,291.71 L617.64,291.07 L616.83,290.56 L615.92,290.19 L614.93,289.98 L613.92,289.93 L612.91,290.06 L611.96,290.35 L611.10,290.80 L610.36,291.38 L609.78,292.07 L609.38,292.84 L609.18,293.67 L609.18,294.51 L609.38,295.34 L609.78,296.11 L610.36,296.80 L611.10,297.38 L611.96,297.82 L612.91,298.12 L613.92,298.24 L614.93,298.20 L615.92,297.99 L616.83,297.62 L617.64,297.11 L618.30,296.47 L618.79,295.73 L619.10,294.93 L619.20,294.09 M624.85,290.87 L634.27,290.87 M652.28,290.40 L652.17,288.82 L651.84,287.30 L651.31,285.92 L650.60,284.71 L649.73,283.74 L648.75,283.04 L647.69,282.64 L646.59,282.56 L645.51,282.80 L644.48,283.35 L643.55,284.19 L642.76,285.29 L642.13,286.59 L641.70,288.05 L641.48,289.61 L641.48,291.19 L641.70,292.75 L642.13,294.21 L642.76,295.51 L643.55,296.61 L644.48,297.45 L645.51,298.00 L646.59,298.24 L647.69,298.16 L648.75,297.76 L649.73,297.06 L650.60,296.09 L651.31,294.88 L651.84,293.50 L652.17,291.98 L652.28,290.40" fill="none" stroke="#000" stroke-width="2.50" stroke-linejoin="round" stroke-linecap="square"/>
<path d="M394.65,473.65 L394.65,494.85 L408.10,494.85 M416.55,481.28 L416.55,494.85 M416.55,475.24 L416.55,474.82 M427.80,482.34 L433.47,494.85 L439.15,482.34 M446.75,481.28 L446.75,494.85 M446.75,475.24 L446.75,474.82 M455.15,481.28 L455.15,494.85 M455.15,486.05 L455.24,485.12 L455.49,484.23 L455.90,483.40 L456.45,482.68 L457.13,482.09 L457.90,481.65 L458.73,481.37 L459.60,481.28 L460.47,481.37 L461.31,481.65 L462.08,482.09 L462.75,482.68 L463.30,483.40 L463.72,484.23 L463.97,485.12 L464.05,486.05 L464.05,494.85 M482.65,488.07 L482.54,486.70 L482.22,485.39 L481.70,484.19 L481.00,483.15 L480.15,482.31 L479.19,481.70 L478.15,481.36 L477.08,481.29 L476.02,481.50 L475.02,481.98 L474.11,482.70 L473.33,483.65 L472.72,484.77 L472.29,486.04 L472.08,487.38 L472.08,488.75 L472.29,490.10 L472.72,491.36 L473.33,492.48 L474.11,493.43 L475.02,494.16 L476.02,494.63 L477.08,494.84 L478.15,494.77 L479.19,494.43 L480.15,493.82 L481.00,492.98 L481.70,491.94 L482.22,490.74 L482.54,489.43 L482.65,488.07 M482.65,481.28 L482.65,497.39 L482.54,498.41 L482.23,499.39 L481.71,500.28 L481.02,501.06 L480.18,501.69 L479.23,502.15 L478.20,502.42 L477.14,502.48 L476.08,502.33 L475.08,501.99 L474.17,501.46 L473.38,500.77 L472.76,499.94" fill="none" stroke="#000" stroke-width="2.70" stroke-linejoin="round" stroke-linecap="square"/>
<path d="M378.85,526.25 L378.85,510.55 M379.24,526.25 L379.24,510.55 M385.55,514.28 L385.85,513.36 L386.33,512.51 L386.98,511.79 L387.76,511.21 L388.64,510.80 L389.59,510.59 L390.56,510.57 L391.51,510.75 L392.41,511.12 L393.21,511.67 L393.88,512.37 L394.39,513.20 L394.73,514.11 L394.87,515.07 L394.81,516.04 L394.55,516.97 L394.10,517.84 L393.49,518.59 L385.45,526.25 L394.24,526.25 M402.85,518.87 L412.27,518.87 M428.90,510.55 L422.46,510.55 L421.84,517.46 L422.05,517.94 L422.86,517.31 L423.78,516.85 L424.78,516.58 L425.82,516.52 L426.85,516.67 L427.83,517.02 L428.70,517.55 L429.45,518.25 L430.03,519.09 L430.43,520.02 L430.61,521.01 L430.58,522.02 L430.34,523.00 L429.90,523.91 L429.27,524.71 L428.48,525.37 L427.58,525.86 L426.58,526.16 L425.55,526.25 L424.52,526.13 L423.53,525.82 L422.63,525.31 L421.86,524.63 L421.25,523.82 M435.62,525.62 L443.00,516.52 M435.62,516.52 L443.00,525.62 M447.35,526.25 L447.35,510.55 M447.74,526.25 L447.74,510.55 M454.60,519.19 L455.18,518.41 L455.90,517.77 L456.75,517.28 L457.68,516.96 L458.65,516.83 L459.64,516.90 L460.58,517.15 L461.46,517.59 L462.23,518.18 L462.86,518.92 L463.32,519.76 L463.60,520.67 L463.68,521.62 L463.57,522.57 L463.26,523.47 L462.76,524.30 L462.11,525.01 L461.32,525.58 L460.43,525.98 L459.47,526.21 L458.49,526.24 L457.52,526.08 L456.60,525.73 L455.77,525.22 L455.07,524.55 L454.52,523.76 L454.15,522.87 L453.97,521.94 L453.98,520.98 L454.20,520.05 L454.60,519.19 L459.13,513.69 L461.49,510.55 M469.35,518.87 L478.77,518.87 M498.88,518.40 L498.77,516.82 L498.44,515.30 L497.91,513.92 L497.20,512.71 L496.33,511.74 L495.35,511.04 L494.29,510.64 L493.19,510.56 L492.11,510.80 L491.08,511.35 L490.15,512.19 L489.36,513.29 L488.73,514.59 L488.30,516.05 L488.08,517.61 L488.08,519.19 L488.30,520.75 L488.73,522.21 L489.36,523.51 L490.15,524.61 L491.08,525.45 L492.11,526.00 L493.19,526.24 L494.29,526.16 L495.35,525.76 L496.33,525.06 L497.20,524.09 L497.91,522.88 L498.44,521.50 L498.77,519.98 L498.88,518.40" fill="none" stroke="#000" stroke-width="2.50" stroke-linejoin="round" stroke-linecap="square"/>
<path d="M323.10,48.15 L316.09,48.15 L315.41,55.67 L315.64,56.20 L316.52,55.51 L317.53,55.01 L318.62,54.72 L319.75,54.65 L320.87,54.81 L321.93,55.19 L322.89,55.78 L323.70,56.54 L324.33,57.45 L324.76,58.47 L324.97,59.54 L324.93,60.64 L324.67,61.71 L324.19,62.70 L323.50,63.57 L322.65,64.29 L321.66,64.82 L320.58,65.15 L319.45,65.25 L318.32,65.12 L317.25,64.78 L316.27,64.22 L315.43,63.49 L314.77,62.60 M330.71,50.24 L331.20,49.57 L331.83,49.00 L332.55,48.56 L333.35,48.28 L334.20,48.16 L335.05,48.20 L335.87,48.40 L336.64,48.76 L337.32,49.27 L337.88,49.89 L338.31,50.62 L338.58,51.41 L338.68,52.24 L338.62,53.07 L338.39,53.87 L338.00,54.61 L337.47,55.26 L336.82,55.80 L336.07,56.20 L335.26,56.45 L334.41,56.53 L335.46,56.62 L336.47,56.87 L337.40,57.29 L338.20,57.84 L338.86,58.52 L339.34,59.30 L339.63,60.13 L339.71,61.00 L339.58,61.86 L339.24,62.68 L338.71,63.43 L338.01,64.09 L337.17,64.61 L336.22,64.99 L335.20,65.20 L334.14,65.24 L333.10,65.12 L332.11,64.82 L331.21,64.37 L330.43,63.77 L329.82,63.07 M350.15,57.21 L361.33,57.21 M379.14,56.70 L379.01,54.98 L378.64,53.33 L378.03,51.82 L377.21,50.50 L376.22,49.44 L375.10,48.68 L373.88,48.25 L372.63,48.16 L371.39,48.42 L370.22,49.02 L369.15,49.94 L368.24,51.13 L367.53,52.55 L367.03,54.14 L366.78,55.84 L366.78,57.56 L367.03,59.26 L367.53,60.85 L368.24,62.27 L369.15,63.46 L370.22,64.38 L371.39,64.98 L372.63,65.24 L373.88,65.15 L375.10,64.72 L376.22,63.96 L377.21,62.90 L378.03,61.58 L378.64,60.07 L379.01,58.42 L379.14,56.70" fill="none" stroke="#000" stroke-width="2.50" stroke-linejoin="round" stroke-linecap="square"/><path d="M347.67,47.47 L344.25,51.57 M386.77,47.47 L383.35,51.57 M390.53,47.47 L387.11,51.57" fill="none" stroke="#000" stroke-width="1.55" stroke-linecap="butt"/>
<path d="M441.05,63.35 L441.05,47.15 L445.08,47.15 L445.97,47.23 L446.83,47.46 L447.62,47.85 L448.31,48.36 L448.88,48.99 L449.31,49.70 L449.57,50.48 L449.65,51.28 L449.57,52.09 L449.31,52.86 L448.88,53.58 L448.31,54.20 L447.62,54.72 L446.83,55.10 L445.97,55.33 L445.08,55.41 L441.05,55.41 M457.28,55.27 L457.47,54.54 L457.76,53.87 L458.16,53.29 L458.64,52.81 L459.19,52.46 L459.78,52.24 L460.39,52.17 L461.01,52.25 L461.60,52.48 L462.14,52.84 L462.61,53.33 L463.00,53.92 L463.29,54.59 L463.47,55.32 L463.53,56.08 L463.53,63.35 M462.15,58.27 L461.57,57.99 L460.94,57.82 L460.28,57.76 L459.62,57.82 L458.99,58.00 L458.41,58.28 L457.92,58.65 L457.52,59.11 L457.23,59.63 L457.08,60.18 L457.06,60.75 L457.17,61.31 L457.42,61.85 L457.78,62.32 L458.25,62.73 L458.80,63.04 L459.42,63.25 L460.07,63.34 L460.73,63.32 L461.38,63.19 L461.98,62.94 L462.50,62.60 L462.94,62.17 L463.26,61.67 L463.46,61.12 L463.53,60.56 M475.29,47.15 L475.29,61.73 L475.32,62.05 L475.42,62.35 L475.57,62.63 L475.77,62.88 L476.01,63.08 L476.29,63.23 L476.60,63.32 L476.91,63.35 L477.61,63.35 M472.75,52.17 L477.45,52.17 M482.15,52.17 L482.15,63.35 M482.15,48.36 L482.15,48.04 M496.44,57.76 L496.35,56.64 L496.09,55.56 L495.67,54.57 L495.10,53.71 L494.41,53.02 L493.63,52.52 L492.79,52.24 L491.93,52.18 L491.07,52.35 L490.25,52.74 L489.52,53.34 L488.89,54.12 L488.39,55.05 L488.05,56.09 L487.87,57.20 L487.87,58.33 L488.05,59.43 L488.39,60.47 L488.89,61.40 L489.52,62.18 L490.25,62.78 L491.07,63.17 L491.93,63.34 L492.79,63.29 L493.63,63.00 L494.41,62.50 L495.10,61.81 L495.67,60.95 L496.09,59.97 L496.35,58.89 L496.44,57.76" fill="none" stroke="#000" stroke-width="2.50" stroke-linejoin="round" stroke-linecap="square"/>
<path d="M273.15,338.95 L273.15,322.35 L277.28,322.35 L278.19,322.43 L279.07,322.67 L279.88,323.06 L280.59,323.59 L281.18,324.23 L281.61,324.96 L281.88,325.76 L281.97,326.58 L281.88,327.41 L281.61,328.20 L281.18,328.93 L280.59,329.58 L279.88,330.10 L279.07,330.49 L278.19,330.73 L277.28,330.82 L273.15,330.82 M298.15,333.64 L298.06,332.57 L297.79,331.54 L297.36,330.60 L296.78,329.79 L296.08,329.13 L295.28,328.66 L294.42,328.39 L293.53,328.33 L292.65,328.50 L291.81,328.87 L291.06,329.44 L290.41,330.18 L289.90,331.06 L289.55,332.05 L289.37,333.10 L289.37,334.18 L289.55,335.23 L289.90,336.22 L290.41,337.10 L291.06,337.84 L291.81,338.41 L292.65,338.78 L293.53,338.94 L294.42,338.89 L295.28,338.62 L296.08,338.15 L296.78,337.49 L297.36,336.67 L297.79,335.73 L298.06,334.71 L298.15,333.64 M303.85,328.33 L303.85,338.95 M303.85,332.81 L303.93,331.92 L304.16,331.07 L304.54,330.28 L305.05,329.60 L305.67,329.04 L306.38,328.64 L307.14,328.39 M320.99,329.57 L320.16,328.96 L319.23,328.54 L318.24,328.34 L317.23,328.37 L316.25,328.62 L315.33,329.08 L314.52,329.74 L313.86,330.56 L313.36,331.51 L313.05,332.55 L312.95,333.64 L313.05,334.73 L313.36,335.77 L313.86,336.72 L314.52,337.54 L315.33,338.20 L316.25,338.66 L317.23,338.91 L318.24,338.93 L319.23,338.73 L320.16,338.32 L320.99,337.71 M326.95,322.35 L326.95,338.95 M326.95,332.06 L327.03,331.33 L327.27,330.63 L327.65,329.99 L328.18,329.42 L328.81,328.96 L329.53,328.61 L330.32,328.40 L331.13,328.33 L331.95,328.40 L332.73,328.61 L333.46,328.96 L334.09,329.42 L334.61,329.99 L335.00,330.63 L335.24,331.33 L335.32,332.06 L335.32,338.95" fill="none" stroke="#000" stroke-width="2.50" stroke-linejoin="round" stroke-linecap="square"/>
<path d="M407.62,315.05 L398.75,315.05 L398.75,331.45 L407.62,331.45 M398.75,322.92 L406.25,322.92 M415.25,319.97 L415.25,331.45 M415.25,323.66 L415.32,322.94 L415.51,322.25 L415.83,321.61 L416.26,321.05 L416.78,320.59 L417.38,320.25 L418.02,320.04 L418.69,319.97 L419.37,320.04 L420.01,320.25 L420.61,320.59 L421.13,321.05 L421.56,321.61 L421.88,322.25 L422.07,322.94 L422.14,323.66 L422.14,331.45 M431.52,315.05 L431.52,329.81 L431.56,330.13 L431.65,330.44 L431.80,330.72 L432.01,330.97 L432.25,331.17 L432.54,331.33 L432.84,331.42 L433.16,331.45 L433.87,331.45 M428.95,319.97 L433.71,319.97 M438.45,319.97 L438.45,331.45 M438.45,324.40 L438.53,323.52 L438.76,322.68 L439.13,321.90 L439.64,321.23 L440.25,320.68 L440.95,320.28 L441.70,320.04 M448.02,320.79 L452.32,331.45 M456.62,320.79 L450.45,336.04" fill="none" stroke="#000" stroke-width="2.50" stroke-linejoin="round" stroke-linecap="square"/>
<path d="M566.05,384.25 L566.05,363.05 M582.61,363.90 L566.05,376.62 M571.18,372.59 L583.54,383.40 M592.15,371.53 L592.15,384.25 M592.15,364.64 L592.15,364.22 M603.18,363.05 L603.18,382.13 L603.22,382.54 L603.34,382.94 L603.54,383.31 L603.80,383.63 L604.12,383.89 L604.49,384.09 L604.88,384.21 L605.30,384.25 L606.21,384.25 M599.85,371.53 L606.00,371.53" fill="none" stroke="#000" stroke-width="2.70" stroke-linejoin="round" stroke-linecap="square"/>
<path d="M532.05,409.35 L532.05,393.65 M532.44,409.35 L532.44,393.65 M539.95,409.35 L539.95,393.65 M540.34,409.35 L540.34,393.65 M548.25,401.97 L557.67,401.97 M574.00,393.65 L567.56,393.65 L566.93,400.56 L567.15,401.04 L567.96,400.41 L568.88,399.95 L569.88,399.68 L570.92,399.62 L571.95,399.77 L572.93,400.12 L573.80,400.65 L574.55,401.35 L575.13,402.19 L575.53,403.12 L575.71,404.11 L575.68,405.12 L575.44,406.10 L575.00,407.01 L574.37,407.81 L573.58,408.47 L572.68,408.96 L571.68,409.26 L570.65,409.35 L569.62,409.23 L568.63,408.92 L567.73,408.41 L566.96,407.73 L566.35,406.92 M580.62,408.72 L588.00,399.62 M580.62,399.62 L588.00,408.72 M602.60,399.97 L602.86,399.05 L602.90,398.09 L602.74,397.15 L602.37,396.26 L601.81,395.46 L601.08,394.77 L600.22,394.23 L599.25,393.86 L598.23,393.67 L597.18,393.68 L596.15,393.87 L595.19,394.25 L594.33,394.80 L593.62,395.50 L593.07,396.31 L592.71,397.21 L592.56,398.15 L592.61,399.10 L592.88,400.02 L593.35,400.87 L594.00,401.62 L594.80,402.24 L595.71,402.70 L596.72,402.98 L597.76,403.07 L598.80,402.97 L599.80,402.68 L600.71,402.21 L601.51,401.59 L602.14,400.83 L602.60,399.97 L602.86,403.59 L602.59,404.86 L602.10,406.04 L601.40,407.09 L600.52,407.98 L599.50,408.67 L598.37,409.13 L594.28,407.78 M609.15,401.97 L618.57,401.97 M634.86,397.34 L634.77,396.60 L634.53,395.88 L634.12,395.23 L633.59,394.67 L632.93,394.21 L632.19,393.88 L631.39,393.69 L630.57,393.65 L629.75,393.77 L628.98,394.03 L628.28,394.42 L627.68,394.94 L627.20,395.55 L626.88,396.23 L626.71,396.97 L626.71,397.71 L626.88,398.44 L627.20,399.13 L627.68,399.74 L628.28,400.26 L628.98,400.65 L629.75,400.91 L630.57,401.02 L631.39,400.99 L632.19,400.80 L632.93,400.47 L633.59,400.01 L634.12,399.45 L634.53,398.79 L634.77,398.08 L634.86,397.34 M635.80,405.19 L635.70,404.35 L635.39,403.55 L634.90,402.81 L634.24,402.17 L633.43,401.66 L632.52,401.29 L631.53,401.08 L630.52,401.03 L629.51,401.16 L628.56,401.45 L627.70,401.90 L626.96,402.48 L626.38,403.17 L625.98,403.94 L625.78,404.77 L625.78,405.61 L625.98,406.44 L626.38,407.21 L626.96,407.90 L627.70,408.48 L628.56,408.92 L629.51,409.22 L630.52,409.34 L631.53,409.30 L632.52,409.09 L633.43,408.72 L634.24,408.21 L634.90,407.57 L635.39,406.83 L635.70,406.03 L635.80,405.19" fill="none" stroke="#000" stroke-width="2.10" stroke-linejoin="round" stroke-linecap="square"/>
<path d="M551.65,528.85 L551.65,507.65 L557.55,507.65 L559.50,507.85 L561.37,508.46 L563.09,509.44 L564.61,510.75 L565.85,512.36 L566.77,514.19 L567.34,516.18 L567.53,518.25 L567.34,520.32 L566.77,522.31 L565.85,524.14 L564.61,525.75 L563.09,527.06 L561.37,528.04 L559.50,528.65 L557.55,528.85 L551.65,528.85 M575.65,515.28 L575.65,528.85 M575.65,509.24 L575.65,508.82 M584.35,515.28 L584.35,528.85 M584.35,520.05 L584.44,519.12 L584.69,518.23 L585.10,517.40 L585.65,516.68 L586.33,516.09 L587.10,515.65 L587.93,515.37 L588.80,515.28 L589.67,515.37 L590.51,515.65 L591.28,516.09 L591.95,516.68 L592.50,517.40 L592.92,518.23 L593.17,519.12 L593.25,520.05 L593.25,528.85 M601.45,515.28 L601.45,528.85 M601.45,509.24 L601.45,508.82 M609.65,515.28 L609.65,528.85 M609.65,520.05 L609.74,519.12 L609.99,518.23 L610.40,517.40 L610.95,516.68 L611.63,516.09 L612.40,515.65 L613.23,515.37 L614.10,515.28 L614.97,515.37 L615.81,515.65 L616.58,516.09 L617.25,516.68 L617.80,517.40 L618.22,518.23 L618.47,519.12 L618.55,520.05 L618.55,528.85 M637.15,522.07 L637.04,520.70 L636.72,519.39 L636.20,518.19 L635.50,517.15 L634.65,516.31 L633.69,515.70 L632.65,515.36 L631.58,515.29 L630.52,515.50 L629.52,515.98 L628.61,516.70 L627.83,517.65 L627.22,518.77 L626.79,520.04 L626.58,521.38 L626.58,522.75 L626.79,524.10 L627.22,525.36 L627.83,526.48 L628.61,527.43 L629.52,528.16 L630.52,528.63 L631.58,528.84 L632.65,528.77 L633.69,528.43 L634.65,527.82 L635.50,526.98 L636.20,525.94 L636.72,524.74 L637.04,523.43 L637.15,522.07 M637.15,515.28 L637.15,531.39 L637.04,532.41 L636.73,533.39 L636.21,534.28 L635.52,535.06 L634.68,535.69 L633.73,536.15 L632.70,536.42 L631.64,536.48 L630.58,536.33 L629.58,535.99 L628.67,535.46 L627.88,534.77 L627.26,533.94" fill="none" stroke="#000" stroke-width="2.70" stroke-linejoin="round" stroke-linecap="square"/>
<path d="M539.15,559.35 L539.15,543.55 M539.54,559.35 L539.54,543.55 M547.55,559.35 L547.55,543.55 M547.94,559.35 L547.94,543.55 M555.25,551.92 L564.73,551.92 M581.05,543.55 L574.57,543.55 L573.94,550.50 L574.16,550.99 L574.97,550.35 L575.90,549.89 L576.91,549.62 L577.95,549.56 L578.99,549.71 L579.97,550.06 L580.85,550.60 L581.61,551.30 L582.19,552.14 L582.59,553.08 L582.77,554.08 L582.74,555.09 L582.50,556.08 L582.05,556.99 L581.42,557.80 L580.63,558.46 L579.72,558.96 L578.72,559.26 L577.68,559.35 L576.64,559.23 L575.65,558.91 L574.74,558.40 L573.97,557.72 L573.35,556.90 M588.02,558.72 L595.45,549.55 M588.02,549.55 L595.45,558.72 M600.65,559.35 L600.65,543.55 M601.04,559.35 L601.04,543.55 M605.55,547.30 L605.85,546.37 L606.34,545.53 L606.99,544.80 L607.77,544.21 L608.66,543.80 L609.61,543.59 L610.59,543.57 L611.55,543.75 L612.45,544.12 L613.26,544.68 L613.93,545.38 L614.45,546.21 L614.79,547.13 L614.93,548.10 L614.86,549.07 L614.61,550.01 L614.16,550.88 L613.54,551.64 L605.45,559.35 L614.30,559.35 M624.25,551.92 L633.73,551.92 M651.65,551.45 L651.54,549.86 L651.21,548.33 L650.67,546.94 L649.96,545.72 L649.08,544.75 L648.09,544.04 L647.03,543.64 L645.92,543.56 L644.83,543.80 L643.80,544.36 L642.86,545.20 L642.07,546.30 L641.43,547.62 L641.00,549.09 L640.78,550.65 L640.78,552.25 L641.00,553.81 L641.43,555.28 L642.07,556.60 L642.86,557.70 L643.80,558.54 L644.83,559.10 L645.92,559.34 L647.03,559.26 L648.09,558.86 L649.08,558.15 L649.96,557.18 L650.67,555.96 L651.21,554.57 L651.54,553.04 L651.65,551.45" fill="none" stroke="#000" stroke-width="2.10" stroke-linejoin="round" stroke-linecap="square"/>
<path d="M382.50,259.70 L382.50,269.20 L382.57,269.93 L382.78,270.62 L383.12,271.26 L383.58,271.82 L384.14,272.28 L384.78,272.62 L385.47,272.83 L386.20,272.90 L386.92,272.83 L387.61,272.62 L388.25,272.28 L388.81,271.82 L389.27,271.26 L389.61,270.62 L389.82,269.93 L389.89,269.20 L389.89,259.70 M395.50,264.19 L395.50,277.39 M401.84,268.54 L401.77,267.67 L401.58,266.83 L401.27,266.06 L400.85,265.39 L400.34,264.85 L399.77,264.46 L399.15,264.24 L398.51,264.19 L397.87,264.33 L397.27,264.63 L396.73,265.10 L396.26,265.71 L395.90,266.43 L395.65,267.24 L395.52,268.10 L395.52,268.98 L395.65,269.85 L395.90,270.66 L396.26,271.38 L396.73,271.99 L397.27,272.45 L397.87,272.76 L398.51,272.89 L399.15,272.85 L399.77,272.63 L400.34,272.24 L400.85,271.70 L401.27,271.03 L401.58,270.26 L401.77,269.42 L401.84,268.54" fill="none" stroke="#000" stroke-width="2.20" stroke-linejoin="round" stroke-linecap="square"/>
<path d="M491.25,330.15 L491.25,317.85 L494.45,317.85 L495.50,317.97 L496.52,318.32 L497.45,318.89 L498.27,319.65 L498.95,320.58 L499.45,321.65 L499.76,322.80 L499.86,324.00 L499.76,325.20 L499.45,326.35 L498.95,327.42 L498.27,328.35 L497.45,329.11 L496.52,329.68 L495.50,330.03 L494.45,330.15 L491.25,330.15 M505.85,322.03 L505.85,330.15 M505.85,324.80 L505.90,324.26 L506.05,323.74 L506.29,323.26 L506.61,322.84 L507.00,322.50 L507.44,322.24 L507.93,322.09 L508.43,322.03 L508.94,322.09 L509.42,322.24 L509.87,322.50 L510.26,322.84 L510.58,323.26 L510.82,323.74 L510.97,324.26 L511.02,324.80 L511.02,330.15" fill="none" stroke="#000" stroke-width="2.10" stroke-linejoin="round" stroke-linecap="square"/>
<path d="M505.10,377.50 L505.10,388.90 L511.92,388.90" fill="none" stroke="#000" stroke-width="2.20" stroke-linejoin="round" stroke-linecap="square"/>
<path d="M576.25,436.95 L576.25,424.65 L578.96,424.65 L579.56,424.71 L580.13,424.89 L580.66,425.18 L581.13,425.57 L581.51,426.04 L581.80,426.59 L581.97,427.17 L582.03,427.79 L581.97,428.40 L581.80,428.99 L581.51,429.53 L581.13,430.00 L580.66,430.39 L580.13,430.68 L579.56,430.86 L578.96,430.92 L576.25,430.92 M579.20,430.92 L582.15,436.46" fill="none" stroke="#000" stroke-width="2.10" stroke-linejoin="round" stroke-linecap="square"/>
<path d="M378.90,141.10 L378.90,127.70 L382.66,127.70 L383.90,127.83 L385.10,128.21 L386.20,128.83 L387.17,129.66 L387.96,130.68 L388.55,131.84 L388.91,133.09 L389.03,134.40 L388.91,135.71 L388.55,136.96 L387.96,138.12 L387.17,139.14 L386.20,139.97 L385.10,140.59 L383.90,140.97 L382.66,141.10 L378.90,141.10" fill="none" stroke="#000" stroke-width="2.20" stroke-linejoin="round" stroke-linecap="square"/>
<path d="M407.64,128.24 L411.33,141.10 L415.15,128.24 L418.98,141.10 L422.67,128.24" fill="none" stroke="#000" stroke-width="2.20" stroke-linejoin="round" stroke-linecap="square"/>
<path d="M2.51,-16.26 L3.00,-16.93 L3.63,-17.50 L4.35,-17.94 L5.15,-18.22 L6.00,-18.34 L6.85,-18.30 L7.67,-18.10 L8.44,-17.74 L9.12,-17.23 L9.68,-16.61 L10.11,-15.88 L10.38,-15.09 L10.48,-14.26 L10.42,-13.43 L10.19,-12.63 L9.80,-11.89 L9.27,-11.24 L8.62,-10.70 L7.87,-10.30 L7.06,-10.05 L6.21,-9.97 L7.26,-9.88 L8.27,-9.63 L9.20,-9.21 L10.00,-8.66 L10.66,-7.98 L11.14,-7.20 L11.43,-6.37 L11.51,-5.50 L11.38,-4.64 L11.04,-3.82 L10.51,-3.07 L9.81,-2.41 L8.97,-1.89 L8.02,-1.51 L7.00,-1.30 L5.94,-1.26 L4.90,-1.38 L3.91,-1.68 L3.01,-2.13 L2.23,-2.73 L1.62,-3.43 M27.20,-11.47 L27.48,-12.47 L27.53,-13.51 L27.35,-14.53 L26.95,-15.51 L26.34,-16.38 L25.54,-17.13 L24.60,-17.72 L23.55,-18.12 L22.43,-18.33 L21.29,-18.32 L20.17,-18.11 L19.13,-17.69 L18.19,-17.09 L17.41,-16.34 L16.81,-15.45 L16.42,-14.48 L16.26,-13.45 L16.32,-12.41 L16.61,-11.41 L17.12,-10.48 L17.82,-9.66 L18.70,-8.99 L19.70,-8.49 L20.79,-8.19 L21.92,-8.09 L23.06,-8.20 L24.15,-8.52 L25.14,-9.03 L26.00,-9.71 L26.70,-10.53 L27.20,-11.47 L27.48,-7.52 L27.19,-6.14 L26.65,-4.86 L25.89,-3.71 L24.93,-2.74 L23.82,-1.99 L22.59,-1.49 L18.13,-2.96 M37.65,-9.29 L48.83,-9.29 M66.34,-9.80 L66.21,-11.52 L65.84,-13.17 L65.23,-14.68 L64.41,-16.00 L63.42,-17.06 L62.30,-17.82 L61.08,-18.25 L59.83,-18.34 L58.59,-18.08 L57.42,-17.48 L56.35,-16.56 L55.44,-15.37 L54.73,-13.95 L54.23,-12.36 L53.98,-10.66 L53.98,-8.94 L54.23,-7.24 L54.73,-5.65 L55.44,-4.23 L56.35,-3.04 L57.42,-2.12 L58.59,-1.52 L59.83,-1.26 L61.08,-1.35 L62.30,-1.78 L63.42,-2.54 L64.41,-3.60 L65.23,-4.92 L65.84,-6.43 L66.21,-8.08 L66.34,-9.80" fill="none" stroke="#000" stroke-width="2.50" stroke-linejoin="round" stroke-linecap="square" transform="translate(716,399.6) rotate(-90)"/><path d="M33.67,-19.03 L30.25,-14.93 M72.67,-19.03 L69.25,-14.93 M76.43,-19.03 L73.01,-14.93" fill="none" stroke="#000" stroke-width="1.55" stroke-linecap="butt" transform="translate(716,399.6) rotate(-90)"/>
<!-- SECTION:TEXT -->
</g>
</svg>
</body></html>
